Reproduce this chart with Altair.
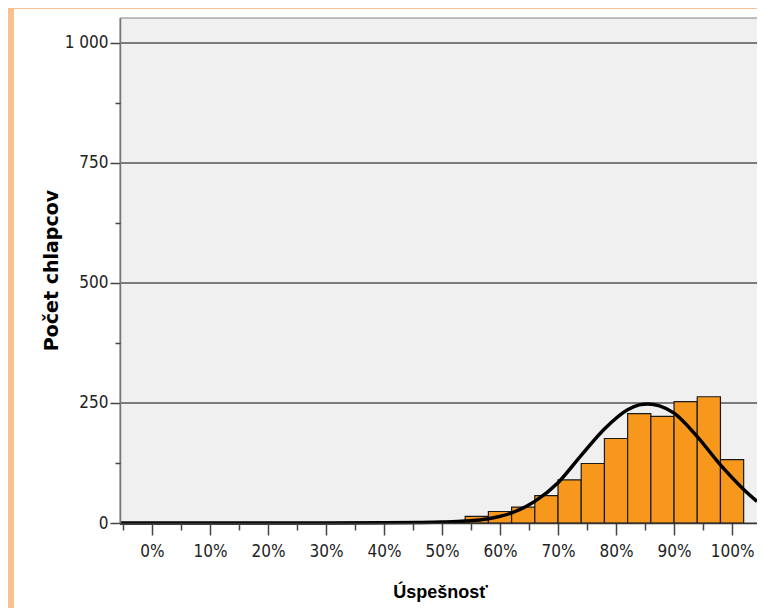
import altair as alt
import pandas as pd

# ---- data ----
bin_start = [46, 50, 54, 58, 62, 66, 70, 74, 78, 82, 86, 90, 94, 98]
bin_end = [50, 54, 58, 62, 66, 70, 74, 78, 82, 86, 90, 94, 98, 102]
counts = [1, 2, 14, 24, 33, 57, 90, 124, 176, 228, 222, 253, 263, 132]

curve_x = [-5.5, 0, 10, 20, 30, 40, 46, 50, 54, 58, 62, 66, 70, 74, 78, 82,
           84, 85.5, 87.5, 90, 94, 98, 102, 104.3]
curve_y = [0, 0, 0, 0, 0, 0.3, 1, 2, 4, 9, 21, 45, 84, 141, 196, 236,
           246, 248, 244, 229, 180, 121, 70, 45]

grid_values = [250, 500, 750, 1000]
x_major = [0, 10, 20, 30, 40, 50, 60, 70, 80, 90, 100]
x_minor = [-5, 5, 15, 25, 35, 45, 55, 65, 75, 85, 95]
y_major = [0, 250, 500, 750, 1000]
y_minor = [125, 375, 625, 875]

x_title = "Úspešnosť"
y_title = "Počet chlapcov"

X_DOMAIN = [-5.5, 104.3]
Y_DOMAIN = [0, 1052]

W, H = 637, 505
NARROW = "DejaVu Sans Condensed, Liberation Sans Narrow, Arial Narrow, sans-serif"

bars_df = pd.DataFrame({"start": bin_start, "end": bin_end, "count": counts})
curve_df = pd.DataFrame({"px": curve_x, "cy": curve_y})
grid_df = pd.DataFrame({"v": grid_values})
one = pd.DataFrame({"k": [0]})

xscale = alt.Scale(domain=X_DOMAIN, nice=False, zero=False)
yscale = alt.Scale(domain=Y_DOMAIN, nice=False)

major_x = alt.Axis(
    values=x_major, labelExpr="datum.value + '%'", orient="bottom",
    tickSize=12, tickColor="#444", tickWidth=1.5, labelPadding=8,
    labelFont=NARROW, labelFontSize=17, labelColor="#222",
    labelFlush=False, labelOverlap=False,
    domainColor="#333", domainWidth=1.5, grid=False,
    title=x_title, titleFont="Liberation Sans", titleFontSize=18,
    titleFontWeight="bold", titleColor="#000", titleBaseline="alphabetic",
    titleX=320, titleY=74, zindex=1)
minor_x = alt.Axis(
    values=x_minor, labels=False, orient="bottom", tickSize=7,
    tickColor="#444", tickWidth=1.5, domain=False, grid=False, title="",
    zindex=1)
major_y = alt.Axis(
    values=y_major, labelExpr="replace(format(datum.value, ','), ',', ' ')",
    orient="left", tickSize=10, tickColor="#444", tickWidth=1.5,
    labelPadding=2, labelFont=NARROW, labelFontSize=17, labelColor="#222",
    labelFlush=False, labelOverlap=False,
    domainColor="#777", domainWidth=1.5, grid=False,
    title=y_title, titleFont="DejaVu Sans", titleFontSize=19,
    titleFontWeight="bold", titleColor="#000", titleAngle=270,
    titleBaseline="alphabetic", titleX=-63, titleY=252, zindex=1)
minor_y = alt.Axis(
    values=y_minor, labels=False, orient="left", tickSize=5,
    tickColor="#444", tickWidth=1.5, domain=False, grid=False, title="",
    zindex=1)

panel = alt.Chart(one).mark_rect(fill="white", strokeWidth=0).encode(
    x=alt.value(-106), x2=alt.value(700), y=alt.value(-9), y2=alt.value(600))

plot_bg = alt.Chart(one).mark_rect(
    fill="#F0F0F0", stroke="#808080", strokeWidth=1).encode(
    x=alt.value(0), x2=alt.value(700), y=alt.value(0), y2=alt.value(H))

grid = alt.Chart(grid_df).mark_rule(color="#555", strokeWidth=1.5).encode(
    y=alt.Y("v:Q", scale=yscale, axis=None),
    x=alt.value(0), x2=alt.value(700))

bars = alt.Chart(bars_df).mark_rect(
    fill="#F7981D", stroke="#1a1a1a", strokeWidth=1.2).encode(
    x=alt.X("start:Q", scale=xscale, axis=major_x),
    x2="end:Q",
    y=alt.Y("count:Q", scale=yscale, axis=major_y),
    y2=alt.datum(0))

curve = alt.Chart(curve_df).mark_line(
    color="black", strokeWidth=3.5, interpolate="monotone").encode(
    x=alt.X("px:Q", scale=xscale, axis=minor_x),
    y=alt.Y("cy:Q", scale=yscale, axis=minor_y))

chart = alt.layer(panel, plot_bg, grid, bars, curve).resolve_axis(
    x="independent", y="independent"
).properties(
    width=W, height=H,
    padding={"left": 112, "top": 10, "right": 0, "bottom": 85},
    autosize=alt.AutoSizeParams(type="none"),
).configure(background="#FAC08F").configure_view(strokeWidth=0)

chart.save("out.html", embed_options={"renderer": "svg", "actions": False})
